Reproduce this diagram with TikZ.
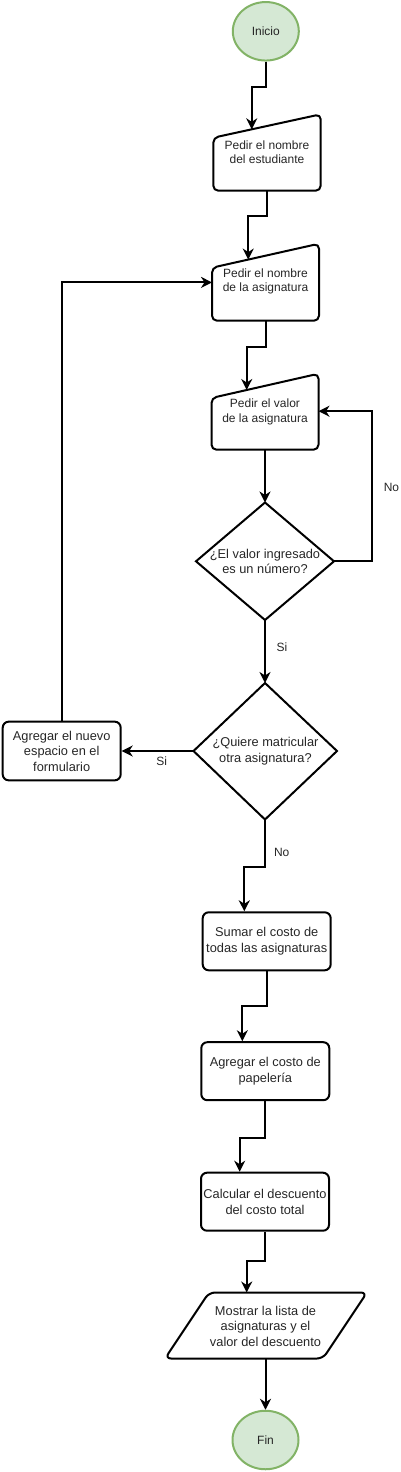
\documentclass[tikz,border=0pt]{standalone}
\usepackage{fontspec}
\setmainfont{Liberation Sans}
\usetikzlibrary{arrows.meta,shapes.geometric,calc}
\definecolor{termfill}{HTML}{D5E8D4}
\definecolor{termline}{HTML}{82B366}
\begin{document}
\begin{tikzpicture}[x=1pt,y=-1pt,
  every node/.style={font=\fontsize{12.8}{15.5}\selectfont, text=black!85},
  small/.style={font=\fontsize{12}{14.3}\selectfont, align=center, inner sep=0pt},
  lbl/.style={font=\fontsize{12}{14}\selectfont, inner sep=0pt},
  term/.style={ellipse, draw=termline, fill=termfill, line width=2pt, inner sep=0pt,
    minimum width=66pt, minimum height=58.5pt, font=\fontsize{12}{14}\selectfont},
  proc/.style={rectangle, rounded corners=6pt, draw=black, line width=2pt, align=center,
    inner sep=0pt, minimum width=128pt, minimum height=58pt},
  txt/.style={align=center, inner sep=0pt},
  shp/.style={draw=black, line width=2pt, rounded corners=5pt, line join=round},
  dshp/.style={draw=black, line width=2pt, line join=miter},
  line/.style={draw=black, line width=2pt},
  arr/.style={line, -{Stealth[length=11pt,width=11pt,inset=3.5pt]}}
]
\useasboundingbox (0,0) rectangle (400,1472);

% Inicio
\node[term] (inicio) at (265.8,31.3) {Inicio};

% Manual input 1
\coordinate (p1tl) at (213.3,137.7);
\coordinate (p1tr) at (320.7,114.3);
\coordinate (p1br) at (320.7,190.7);
\coordinate (p1bl) at (213.3,190.7);
\coordinate (p1b) at ($(p1bl)!0.5!(p1br)$);
\coordinate (p1in) at ($(p1tl)!0.358!(p1tr)$);
\draw[shp] (p1b) -- (p1bl) -- (p1tl) -- (p1tr) -- (p1br) -- cycle;
\node[small] (pedir1) at (267,152.5) {Pedir el nombre\\del estudiante};

% Manual input 2
\coordinate (p2tl) at (212,267.7);
\coordinate (p2tr) at (319,243.7);
\coordinate (p2br) at (319,320.7);
\coordinate (p2bl) at (212,320.7);
\coordinate (p2b) at ($(p2bl)!0.5!(p2br)$);
\coordinate (p2l) at (212,282.4);
\coordinate (p2in) at ($(p2tl)!0.339!(p2tr)$);
\draw[shp] (p2b) -- (p2bl) -- (p2tl) -- (p2tr) -- (p2br) -- cycle;
\node[small] (pedir2) at (265.5,281.5) {Pedir el nombre\\de la asignatura};

% Manual input 3
\coordinate (p3tl) at (211.5,398);
\coordinate (p3tr) at (318.5,373.7);
\coordinate (p3br) at (318.5,449.7);
\coordinate (p3bl) at (211.5,449.7);
\coordinate (p3b) at ($(p3bl)!0.5!(p3br)$);
\coordinate (p3r) at (318.5,411.2);
\coordinate (p3in) at ($(p3tl)!0.329!(p3tr)$);
\draw[shp] (p3b) -- (p3bl) -- (p3tl) -- (p3tr) -- (p3br) -- cycle;
\node[small] (pedir3) at (265,412) {Pedir el valor\\de la asignatura};

% Decision 1
\coordinate (d1n) at (265,502.5);
\coordinate (d1e) at (334,561.3);
\coordinate (d1s) at (265,620);
\coordinate (d1w) at (196,561.3);
\draw[dshp] (d1n) -- (d1e) -- (d1s) -- (d1w) -- cycle;
\node[txt] (dec1) at (265,561.5) {¿El valor ingresado\\es un número?};

% Decision 2
\coordinate (d2n) at (265,683);
\coordinate (d2e) at (337,751);
\coordinate (d2s) at (265,819.5);
\coordinate (d2w) at (193.5,751);
\draw[dshp] (d2n) -- (d2e) -- (d2s) -- (d2w) -- cycle;
\node[txt] (dec2) at (265.5,751) {¿Quiere matricular\\otra asignatura?};

% Agregar nuevo espacio
\node[proc, minimum width=118pt, minimum height=58.7pt] (nuevo) at (61.7,751)
  {Agregar el nuevo\\espacio en el\\formulario};

% Process boxes
\node[proc] (sumar) at (266.7,941.3) {Sumar el costo de\\todas las asignaturas};
\node[proc] (papel) at (265.3,1071.2) {Agregar el costo de\\papelería};
\node[proc] (calc) at (265,1201.7) {Calcular el descuento\\del costo total};

% Output parallelogram
\coordinate (qtl) at (209,1292.5);
\coordinate (qtr) at (367,1292.5);
\coordinate (qbr) at (323,1358.5);
\coordinate (qbl) at (165,1358.5);
\coordinate (qb) at (265.5,1358.5);
\coordinate (qin) at (246.7,1292.5);
\draw[shp, rounded corners=6pt] (qb) -- (qbl) -- (qtl) -- (qtr) -- (qbr) -- cycle;
\node[txt] (mostrar) at (265.5,1326) {Mostrar la lista de\\asignaturas y el\\valor del descuento};

% Fin
\node[term] (fin) at (265.5,1440) {Fin};

% Connectors
\draw[arr] (inicio.south) -- ++(0,25.3) -| (p1in);
\draw[arr] (p1b) -- ++(0,25.3) -| (p2in);
\draw[arr] (p2b) -- ++(0,26.3) -| (p3in);
\draw[arr] (p3b) -- (d1n);
\draw[arr] (d1e) -- ++(37.7,0) |- (p3r);
\node[lbl] (no1) at (391.5,487.5) {No};
\draw[arr] (d1s) -- (d2n);
\node[lbl] (si1) at (282,647) {Si};
\draw[arr] (d2w) -- (d2w -| nuevo.east);
\node[lbl] (si2) at (161.7,761.5) {Si};
\draw[arr] (nuevo.north) |- (p2l);
\draw[arr] (d2s) -- ++(0,47.2) -| ([xshift=-22.4pt]sumar.north);
\node[lbl] (no2) at (281.7,852) {No};
\draw[arr] (sumar.south) -- ++(0,35) -| ([xshift=-23pt]papel.north);
\draw[arr] (papel.south) -- ++(0,36.5) -| ([xshift=-25.3pt]calc.north);
\draw[arr] (calc.south) -- ++(0,29.5) -| (qin);
\draw[arr] (qb) -- (qb |- fin.north);
\end{tikzpicture}
\end{document}
